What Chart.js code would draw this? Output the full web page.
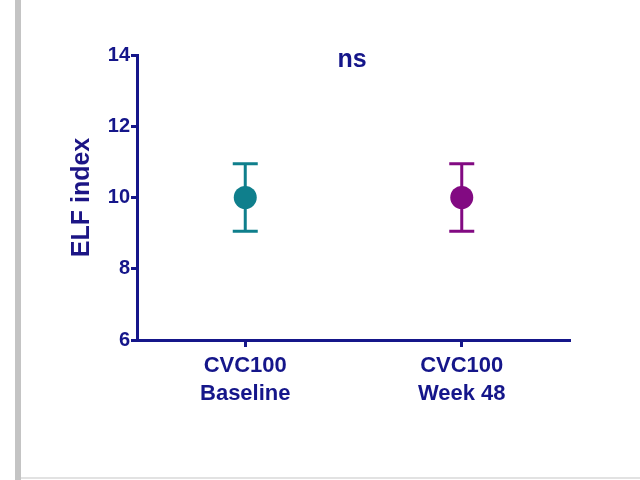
<!DOCTYPE html>
<html>
<head>
<meta charset="utf-8">
<script src="https://cdn.jsdelivr.net/npm/chart.js@4.4.1/dist/chart.umd.min.js"></script>
<style>
  html, body { margin: 0; padding: 0; background: #fff; }
  #frame { position: relative; width: 640px; height: 480px; overflow: hidden; }
  #edge { position: absolute; left: 15px; top: 0; width: 6px; height: 480px; background: #c4c4c4; }
  #base { position: absolute; left: 21px; top: 477px; width: 619px; height: 2px; background: #e2e2e2; }
  #wrap { position: absolute; left: 0; top: 0; width: 640px; height: 480px; }
</style>
</head>
<body>
<div id="frame">
  <div id="edge"></div>
  <div id="base"></div>
  <div id="wrap"><canvas id="c" width="640" height="480"></canvas></div>
</div>
<script>
const groups = [["CVC100", "Baseline"], ["CVC100", "Week 48"]];
const means = [10.0, 10.0];
const upper = [10.95, 10.95];
const lower = [9.05, 9.05];
const colors = ["#0f7f8c", "#820a82"];
const yTicks = [6, 8, 10, 12, 14];

const NAVY = "#15168a";
const FONT = "'Liberation Sans', Arial, sans-serif";

// whiskers with caps, drawn from the upper/lower arrays
const errorBars = {
  id: "errorBars",
  beforeDatasetsDraw(chart) {
    const { ctx, scales: { x, y } } = chart;
    ctx.save();
    ctx.lineWidth = 3;
    means.forEach((m, i) => {
      const px = x.getPixelForValue(i);
      const top = y.getPixelForValue(upper[i]);
      const bot = y.getPixelForValue(lower[i]);
      ctx.strokeStyle = colors[i];
      ctx.beginPath();
      ctx.moveTo(px, top); ctx.lineTo(px, bot);
      ctx.moveTo(px - 12.5, top); ctx.lineTo(px + 12.5, top);
      ctx.moveTo(px - 12.5, bot); ctx.lineTo(px + 12.5, bot);
      ctx.stroke();
    });
    ctx.restore();
  }
};

// significance label above the groups
const sigLabel = {
  id: "sigLabel",
  afterDraw(chart) {
    const { ctx } = chart;
    ctx.save();
    ctx.fillStyle = NAVY;
    ctx.font = "bold 25px " + FONT;
    ctx.textAlign = "center";
    ctx.textBaseline = "middle";
    ctx.fillText("ns", 352, 60);
    ctx.restore();
  }
};

new Chart(document.getElementById("c"), {
  type: "line",
  data: {
    labels: groups,
    datasets: [{
      data: means,
      showLine: false,
      pointRadius: 11.5,
      pointHoverRadius: 11.5,
      pointBackgroundColor: colors,
      pointBorderColor: colors,
      pointBorderWidth: 0
    }]
  },
  options: {
    responsive: false,
    animation: false,
    events: [],
    layout: { padding: { left: 67, right: 70, top: 55, bottom: 0 } },
    plugins: { legend: { display: false }, tooltip: { enabled: false } },
    scales: {
      x: {
        type: "category",
        offset: true,
        border: { color: NAVY, width: 3 },
        grid: { display: true, drawOnChartArea: false, drawTicks: true, tickLength: 7, tickWidth: 3, color: NAVY, offset: false },
        ticks: {
          color: NAVY,
          font: { family: FONT, size: 22, weight: "bold", lineHeight: 1.27 },
          padding: 5,
          maxRotation: 0
        },
        afterFit(s) { s.height = 140; }
      },
      y: {
        min: 6, max: 14,
        afterBuildTicks(s) { s.ticks = yTicks.map(v => ({ value: v })); },
        border: { color: NAVY, width: 3 },
        grid: { display: true, drawOnChartArea: false, drawTicks: true, tickLength: 6, tickWidth: 3, color: NAVY },
        ticks: {
          color: NAVY,
          font: { family: FONT, size: 20, weight: "bold" },
          padding: 1
        },
        title: {
          display: true,
          text: "ELF index",
          color: "#1c1585",
          font: { family: FONT, size: 25, weight: "bold" },
          padding: 0
        },
        afterFit(s) { s.width = 70; }
      }
    }
  },
  plugins: [errorBars, sigLabel]
});
</script>
</body>
</html>
